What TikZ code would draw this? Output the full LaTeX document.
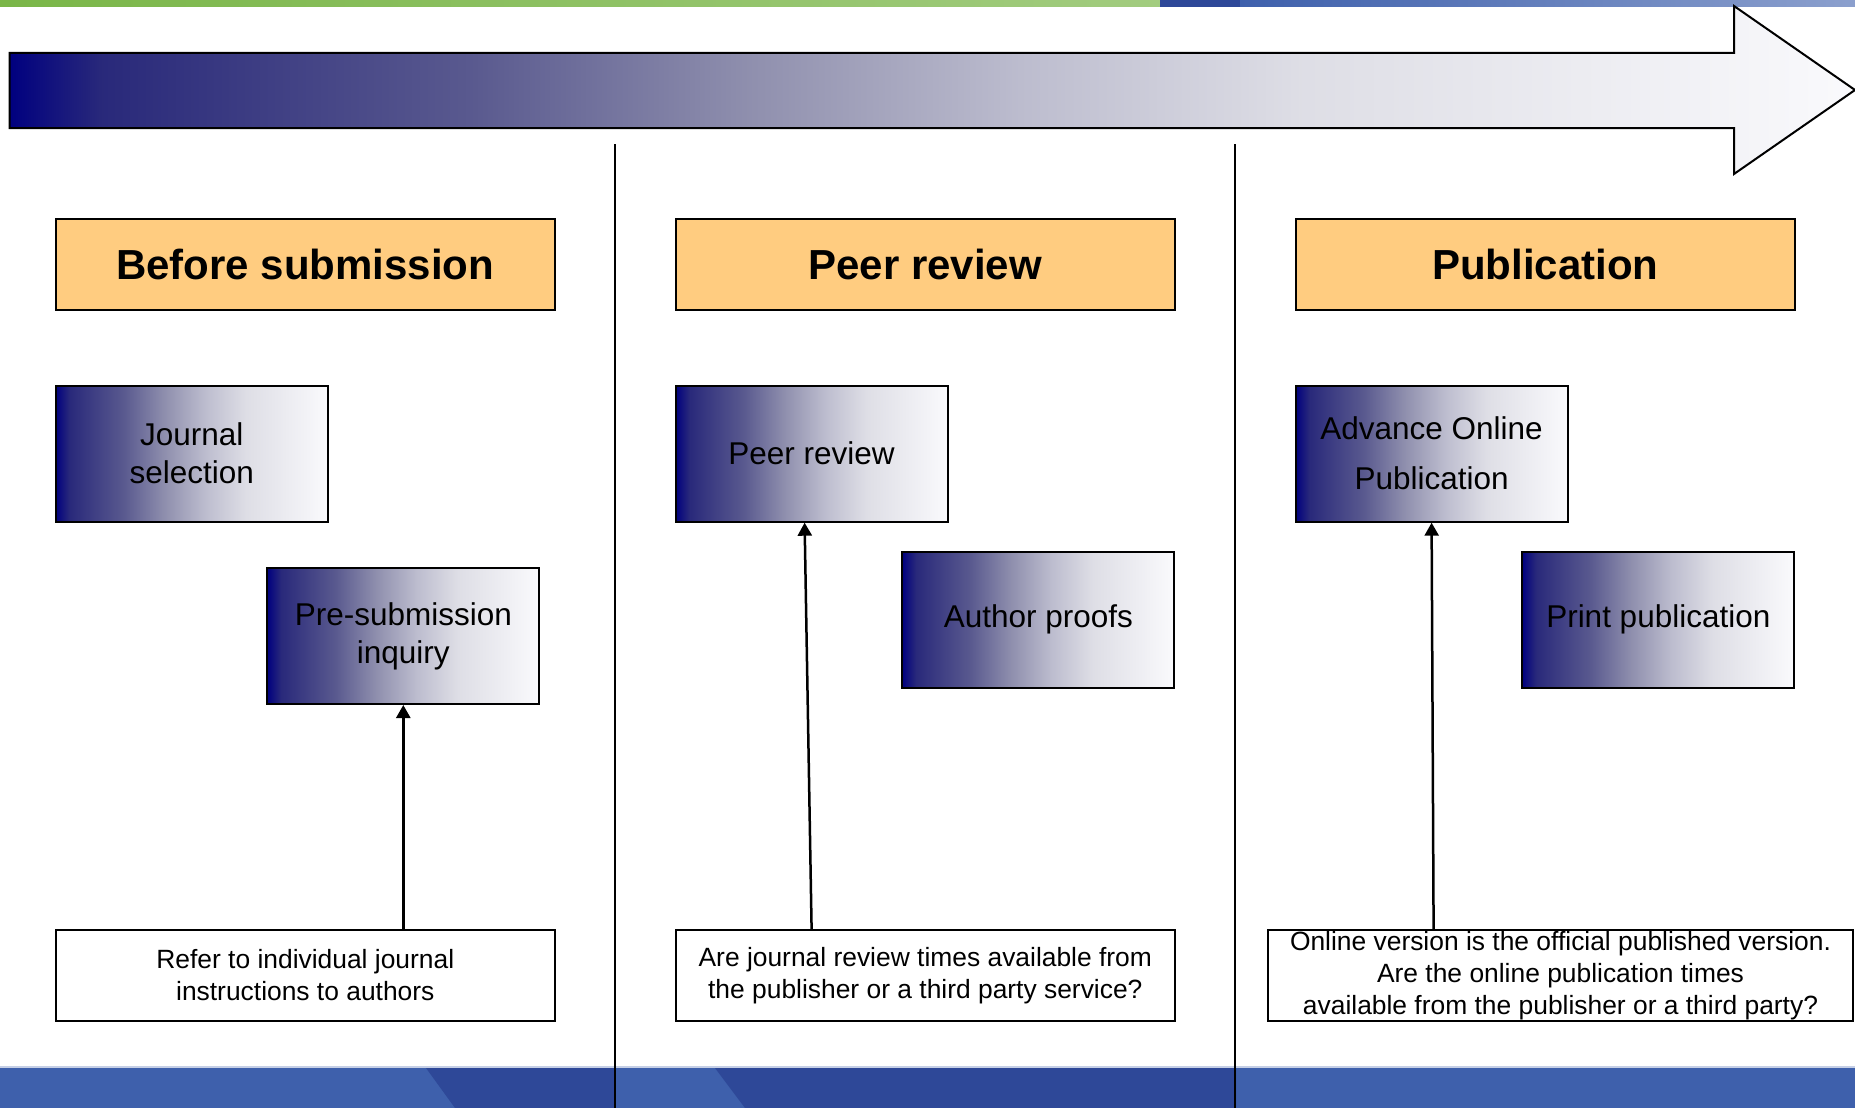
\documentclass[tikz,border=0pt]{standalone}
\usepackage{fontspec}
\setmainfont{Liberation Sans}
\usetikzlibrary{arrows.meta}

\definecolor{headorange}{RGB}{255,204,128}
\definecolor{barblue}{RGB}{62,96,172}
\definecolor{bardark}{RGB}{46,72,152}
\definecolor{bargreen}{RGB}{122,182,72}

% navy to white fade, path spans 25bp..75bp
\pgfdeclarehorizontalshading{navyfade}{100bp}{
	rgb(0bp)=(0,0,0.5);
	rgb(25bp)=(0,0,0.5);
	rgb(27.5bp)=(0.16,0.16,0.48);
	rgb(37.5bp)=(0.35,0.35,0.56);
	rgb(45bp)=(0.56,0.56,0.68);
	rgb(52.5bp)=(0.74,0.74,0.81);
	rgb(60bp)=(0.87,0.87,0.9);
	rgb(75bp)=(0.98,0.98,0.99);
	rgb(100bp)=(0.98,0.98,0.99)}

\tikzset{every picture/.style={line width=2pt}}
\tikzset{
	headbox/.style={draw, fill=headorange, minimum width=499, minimum height=91, inner sep=0,
		font=\fontsize{42}{50}\selectfont\bfseries},
	stagebox/.style={draw, shading=navyfade, minimum width=272, minimum height=136, inner sep=0,
		align=center, font=\fontsize{31.5}{38}\selectfont},
	notebox/.style={draw, fill=white, minimum width=499, minimum height=91, inner sep=0,
		align=center, font=\fontsize{26.4}{32}\selectfont},
	uparrow/.style={-{Triangle[length=13pt,width=14pt]}, line width=2.5pt}
}

\begin{document}
\begin{tikzpicture}[x=1pt,y=1pt,yscale=-1,xscale=1]
	\useasboundingbox (0,0) rectangle (1855,1108);

	%Top strip
	\shade [left color=bargreen, right color=bargreen!70!white] (0,0) rectangle (1160,7);
	\fill [bardark] (1160,0) rectangle (1240,7);
	\shade [left color=barblue, right color=barblue!60!white] (1240,0) rectangle (1855,7);
	%Bottom strip
	\fill [barblue] (0,1068) rectangle (1855,1108);
	\fill [bardark] (426,1068) -- (615,1068) -- (615,1108) -- (455,1108) -- cycle;
	\fill [bardark] (715,1068) -- (1236,1068) -- (1236,1108) -- (745,1108) -- cycle;
	\draw [line width=1.5pt, barblue!30!white] (0,1067) -- (1855,1067);

	%Time arrow
	\shade [shading=navyfade, draw=black]
		(9.5,53) -- (1734,53) -- (1734,6) -- (1855,90) -- (1734,174) -- (1734,128) -- (9.5,128) -- cycle;

	%Column dividers
	\draw (615,144) -- (615,1108);
	\draw (1235,144) -- (1235,1108);

	% Header Nodes
	\node [headbox] (hbefore) at (305.3,264.5) {Before submission};
	\node [headbox] (hpeer) at (925.3,264.5) {Peer review};
	\node [headbox] (hpub) at (1545.3,264.5) {Publication};

	% Stage Nodes
	\node [stagebox] (journal) at (191.7,453.7) {Journal\\selection};
	\node [stagebox] (presub) at (403.3,636) {Pre-submission\\inquiry};
	\node [stagebox] (review) at (811.6,453.7) {Peer review};
	\node [stagebox] (proofs) at (1038.3,619.8) {Author proofs};
	\node [stagebox, font=\fontsize{31.5}{50}\selectfont] (aop) at (1431.6,453.7) {Advance Online\\Publication};
	\node [stagebox] (print) at (1658.3,619.8) {Print publication};

	% Note Nodes
	\node [notebox] (note1) at (305.3,975.5) {Refer to individual journal\\instructions to authors};
	\node [notebox] (note2) at (925.3,975.5) {Are journal review times available from\\the publisher or a third party service?};
	\node [notebox, minimum width=585] (note3) at (1560.5,975.5) {Online version is the official published version.\\Are the online publication times\\available from the publisher or a third party?};

	%Arrows
	\draw [uparrow] (presub.south |- note1.north) -- (presub.south);
	\draw [uparrow] (review.south |- note2.north) -- ([xshift=-7]review.south);
	\draw [uparrow] ([xshift=2]aop.south |- note3.north) -- (aop.south);

\end{tikzpicture}
\end{document}
